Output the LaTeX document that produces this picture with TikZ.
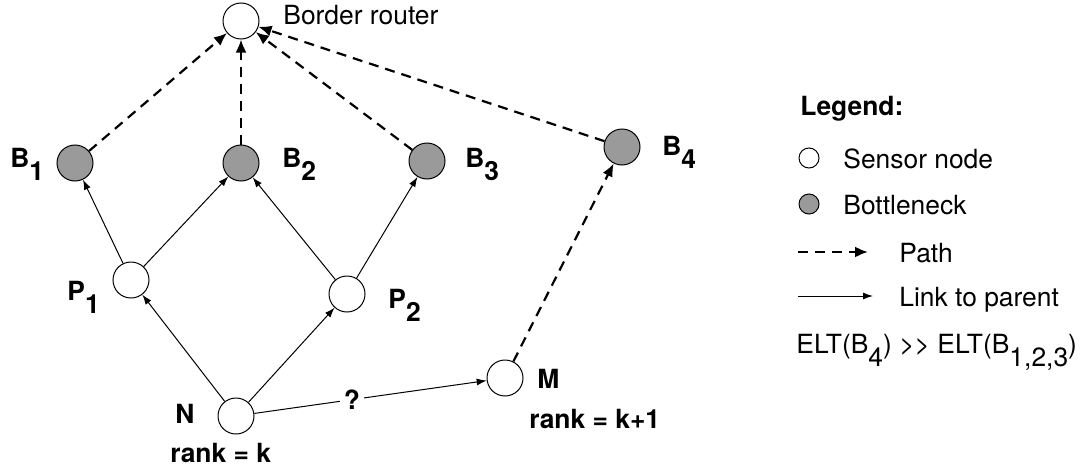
\documentclass[tikz,border=0pt]{standalone}
\usepackage{fontspec}
\setmainfont{TeX Gyre Heros}
\usetikzlibrary{arrows.meta}
\definecolor{bneckgray}{HTML}{9A9A9A}
\newcommand{\lsub}[1]{\raisebox{-0.5em}{#1}}

\begin{document}
\begin{tikzpicture}[x=0.5pt,y=-0.5pt,
  font=\fontsize{13.2}{16}\selectfont,
  sensor/.style={circle,draw,line width=0.5pt,fill=white,minimum size=18pt,inner sep=0pt},
  bneck/.style={sensor,fill=bneckgray},
  pathedge/.style={-{Latex[length=6.5pt,width=5.5pt]},line width=1.1pt,dash pattern=on 5pt off 3.5pt},
  linkedge/.style={-{Latex[length=5pt,width=3.5pt]},line width=0.5pt},
  txt/.style={anchor=base west,inner sep=0pt},
  lab/.style={txt,font=\fontsize{13.2}{16}\selectfont\bfseries}]
  \useasboundingbox (0,0) rectangle (1091,471);
  % nodes
  \node[sensor] (br) at (241,21) {};
  \node[bneck] (b1) at (75,163) {};
  \node[bneck] (b2) at (241,163) {};
  \node[bneck] (b3) at (427,161) {};
  \node[bneck] (b4) at (622,147) {};
  \node[sensor] (p1) at (131,280) {};
  \node[sensor] (p2) at (347,294) {};
  \node[sensor] (n) at (236,416) {};
  \node[sensor] (m) at (505,378) {};
  % labels
  \node[txt] (brlab) at (283,25) {Border router};
  \node[lab] (b1lab) at (10,167) {B\lsub{1}};
  \node[lab] (b2lab) at (282,167) {B\lsub{2}};
  \node[lab] (b3lab) at (465,167) {B\lsub{3}};
  \node[lab] (b4lab) at (662,155) {B\lsub{4}};
  \node[lab] (p1lab) at (67,300) {P\lsub{1}};
  \node[lab] (p2lab) at (388,308) {P\lsub{2}};
  \node[lab] (nlab) at (175,423) {N};
  \node[lab] (nrank) at (170,462) {rank = k};
  \node[lab] (mlab) at (537,388) {M};
  \node[lab] (mrank) at (529,428) {rank = k+1};
  % links to parents
  \foreach \from/\to in {p1/b1,p1/b2,p2/b2,p2/b3,n/p1,n/p2}
    \draw[linkedge] (\from) -- (\to);
  \draw[linkedge] (n) -- node[pos=0.42,fill=white,inner sep=2pt,font=\fontsize{13.2}{16}\selectfont\bfseries] (q) {?} (m);
  % paths
  \foreach \b in {b1,b2,b3,b4}
    \draw[pathedge] (\b) -- (br);
  \draw[pathedge] (m) -- (b4);
  % legend
  \node[lab] (leg) at (800,115) {Legend:};
  \node[sensor,minimum size=10pt] (legsensor) at (809,158) {};
  \node[txt] (legsensortxt) at (843,168) {Sensor node};
  \node[bneck,minimum size=10pt] (legbneck) at (809,204) {};
  \node[txt] (legbnecktxt) at (843,214) {Bottleneck};
  \coordinate (pathA) at (798,252);
  \coordinate (pathB) at (868,252);
  \draw[pathedge] (pathA) -- (pathB);
  \node[txt] (legpathtxt) at (899,262) {Path};
  \coordinate (linkA) at (798,296);
  \coordinate (linkB) at (873,296);
  \draw[linkedge] (linkA) -- (linkB);
  \node[txt] (leglinktxt) at (899,306) {Link to parent};
  \node[txt] (legelt) at (796,353) {ELT(B\lsub{4}) \mbox{>}\mbox{>} ELT(B\lsub{1,2,3})};
\end{tikzpicture}
\end{document}
